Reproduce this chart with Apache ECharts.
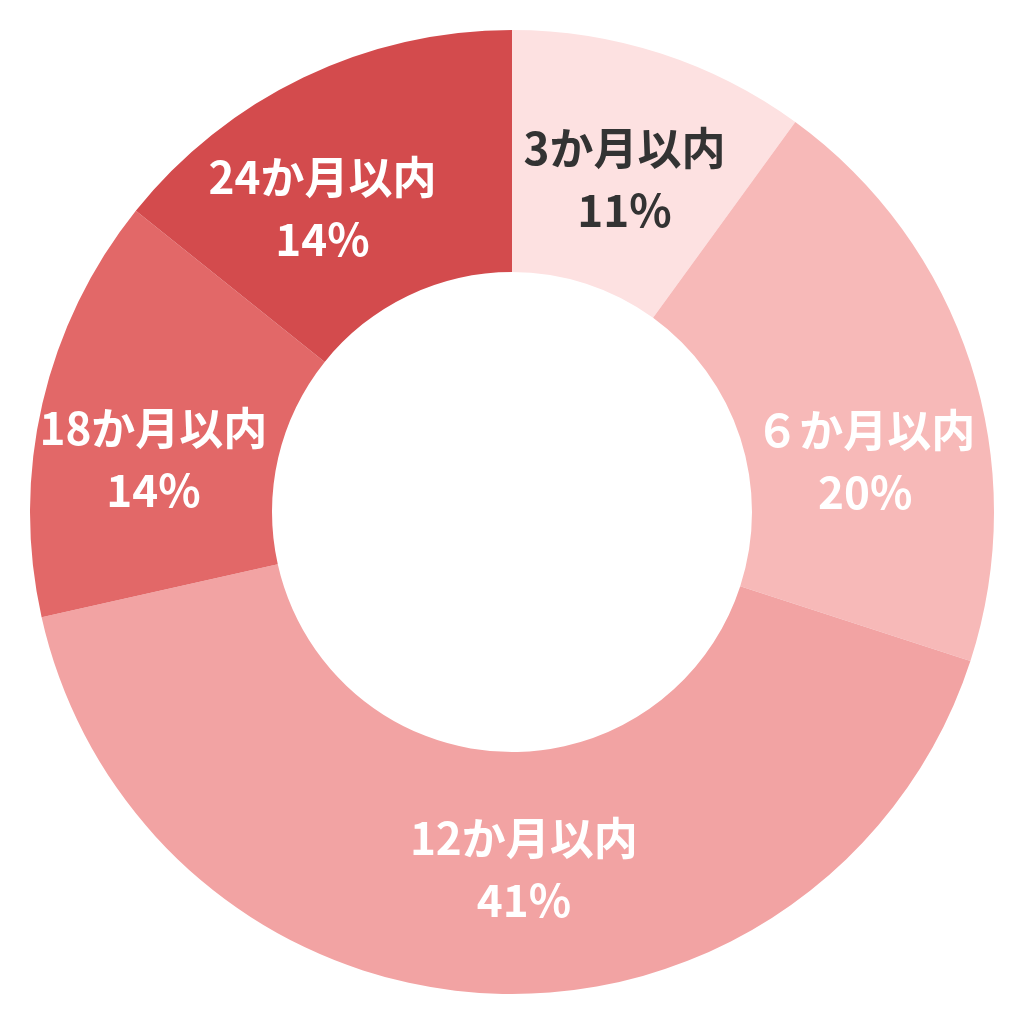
<!DOCTYPE html>
<html>
<head>
<meta charset="utf-8">
<script src="https://cdn.jsdelivr.net/npm/echarts@6/dist/echarts.min.js"></script>
<style>
  html, body { margin: 0; padding: 0; background: #fff; }
  #chart { width: 1024px; height: 1024px; }
</style>
</head>
<body>
<div id="chart"></div>
<script>
// categories, clockwise from 12 o'clock
const categories = ["3か月以内", "６か月以内", "12か月以内", "18か月以内", "24か月以内"]
// slice sizes
const shares = [10, 20, 41.5, 14.25, 14.25]
// percent shown on each label
const percentLabels = ["11%", "20%", "41%", "14%", "14%"]
const colors = ["#FDE1E1", "#F7B9B8", "#F2A3A3", "#E26868", "#D34B4D"]
const textColors = ["#333333", "#ffffff", "#ffffff", "#ffffff", "#ffffff"]
// labels in the original are nudged off the slice middle
const labelOffsets = [[0, 13], [7, 62], [29, -6], [-4, 29], [-32, 24]]

const buildData = () => {
    let values = []
    categories.forEach((name, i) => {
        values.push({
            name: name,
            value: shares[i],
            itemStyle: { color: colors[i] },
            label: { color: textColors[i], offset: labelOffsets[i] }
        })
    })
    return values
}

const chart = echarts.init(document.getElementById("chart"))
chart.setOption({
    animation: false,
    series: [
        {
            type: "pie",
            center: [512, 512],
            radius: [240, 482],
            startAngle: 90,
            clockwise: true,
            data: buildData(),
            itemStyle: { borderWidth: 0 },
            label: {
                position: "inside",
                formatter: p => p.name + "\n" + percentLabels[p.dataIndex],
                fontFamily: "Noto Sans CJK JP",
                fontWeight: "bold",
                fontSize: 44,
                lineHeight: 62
            },
            labelLine: { show: false },
            emphasis: { disabled: true }
        }
    ]
})
</script>
</body>
</html>
